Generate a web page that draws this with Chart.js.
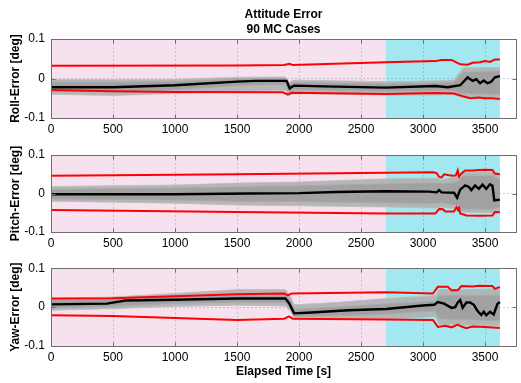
<!DOCTYPE html>
<html>
<head>
<meta charset="utf-8">
<script src="https://cdn.jsdelivr.net/npm/chart.js@4.4.1/dist/chart.umd.min.js"></script>
<style>
  html, body { margin: 0; padding: 0; background: #fff; }
  #wrap { position: relative; width: 521px; height: 383px; }
  #wrap canvas { position: absolute; left: 0; }
</style>
</head>
<body>
<div id="wrap">
  <canvas id="cRoll" width="521" height="140" style="top:0"></canvas>
  <canvas id="cPitch" width="521" height="115" style="top:140px"></canvas>
  <canvas id="cYaw" width="521" height="128" style="top:255px"></canvas>
</div>
<script>
// ---- data -------------------------------------------------------------
const titleLines = ['Attitude Error', '90 MC Cases'];
const xTitle = 'Elapsed Time [s]';
const xTickValues = [0, 500, 1000, 1500, 2000, 2500, 3000, 3500];
const yTickLabels = ['-0.1', '0', '0.1'];
const phaseBounds = [0, 2700, 3620];          // s
const phaseColors = ['#f6e2ef', '#a3e8f1'];

// roll: 3-sigma bounds, mean, spread of the 90 runs
const rollUpper = [[0,0.032],[1500,0.033],[1880,0.034],[1925,0.037],[1950,0.034],[2700,0.041],[3100,0.044],[3150,0.047],[3230,0.047],[3300,0.036],[3360,0.035],[3400,0.040],[3460,0.041],[3500,0.044],[3540,0.042],[3580,0.048],[3620,0.048]];
const rollLower = [[0,-0.029],[500,-0.032],[1000,-0.034],[1870,-0.035],[1910,-0.041],[1940,-0.036],[2700,-0.039],[3100,-0.037],[3250,-0.038],[3320,-0.045],[3380,-0.050],[3450,-0.048],[3500,-0.050],[3560,-0.050],[3620,-0.052]];
const rollMean = [[0,-0.022],[500,-0.022],[1000,-0.017],[1500,-0.008],[1650,-0.006],[1900,-0.006],[1925,-0.025],[1960,-0.018],[2200,-0.020],[2700,-0.023],[3100,-0.019],[3200,-0.022],[3300,-0.017],[3360,0.003],[3400,-0.006],[3430,-0.002],[3460,-0.012],[3490,-0.005],[3520,-0.012],[3550,-0.008],[3580,0.003],[3620,0.006]];
const rollBandT  = [0, 500, 1000, 1500, 1890, 1920, 1960, 2700, 3100, 3250, 3300, 3330, 3620];
const rollOutHi  = [-0.002, -0.003, -0.002, 0.003, 0.004, -0.010, -0.004, -0.008, -0.006, -0.004, 0.018, 0.027, 0.028];
const rollOutLo  = [-0.040, -0.043, -0.038, -0.033, -0.030, -0.043, -0.038, -0.042, -0.042, -0.040, -0.046, -0.047, -0.048];
const rollCoreHi = [-0.010, -0.010, -0.008, -0.001, 0.000, -0.015, -0.010, -0.014, -0.012, -0.010, 0.008, 0.016, 0.018];
const rollCoreLo = [-0.033, -0.034, -0.028, -0.018, -0.014, -0.034, -0.028, -0.032, -0.030, -0.030, -0.036, -0.038, -0.040];

// pitch
const pitchUpper = [[0,0.046],[1500,0.050],[2700,0.054],[3080,0.055],[3110,0.053],[3130,0.043],[3150,0.042],[3170,0.050],[3200,0.048],[3240,0.046],[3265,0.047],[3280,0.060],[3290,0.044],[3310,0.052],[3340,0.060],[3400,0.060],[3450,0.061],[3500,0.062],[3560,0.061],[3580,0.052],[3620,0.050]];
const pitchLower = [[0,-0.043],[1500,-0.048],[2700,-0.052],[3100,-0.052],[3130,-0.040],[3160,-0.041],[3180,-0.047],[3250,-0.047],[3270,-0.036],[3285,-0.045],[3290,-0.034],[3300,-0.052],[3350,-0.057],[3450,-0.058],[3560,-0.057],[3580,-0.048],[3620,-0.049]];
const pitchMean = [[0,-0.002],[1000,-0.002],[1600,0.000],[2000,0.001],[2300,0.004],[2700,0.006],[3050,0.005],[3110,0.003],[3130,0.009],[3150,0.003],[3250,0.002],[3275,-0.011],[3300,0.010],[3340,0.021],[3370,0.017],[3390,0.009],[3420,0.021],[3450,0.012],[3480,0.023],[3510,0.012],[3540,0.024],[3560,0.020],[3575,-0.018],[3620,-0.016]];
const pitchBandT  = [0, 1000, 1500, 2000, 2700, 3100, 3150, 3280, 3320, 3560, 3620];
const pitchOutHi  = [0.018, 0.022, 0.027, 0.030, 0.038, 0.040, 0.036, 0.045, 0.055, 0.056, 0.046];
const pitchOutLo  = [-0.020, -0.025, -0.030, -0.032, -0.035, -0.038, -0.035, -0.040, -0.048, -0.050, -0.045];
const pitchCoreHi = [0.011, 0.014, 0.017, 0.020, 0.025, 0.027, 0.025, 0.030, 0.045, 0.046, 0.035];
const pitchCoreLo = [-0.014, -0.017, -0.020, -0.021, -0.024, -0.026, -0.024, -0.030, -0.040, -0.040, -0.035];

// yaw
const yawUpper = [[0,0.022],[500,0.023],[1000,0.028],[1500,0.033],[1880,0.035],[1910,0.030],[1940,0.035],[2700,0.038],[3080,0.035],[3120,0.052],[3200,0.052],[3230,0.043],[3280,0.043],[3310,0.054],[3400,0.053],[3450,0.055],[3500,0.054],[3560,0.054],[3580,0.047],[3620,0.052]];
const yawLower = [[0,-0.021],[500,-0.023],[1000,-0.028],[1500,-0.033],[1880,-0.030],[1920,-0.024],[1950,-0.030],[2700,-0.032],[3080,-0.033],[3120,-0.051],[3180,-0.048],[3230,-0.052],[3280,-0.045],[3310,-0.050],[3350,-0.054],[3400,-0.050],[3500,-0.051],[3620,-0.054]];
const yawMean = [[0,0.007],[450,0.009],[600,0.017],[1000,0.019],[1500,0.022],[1890,0.022],[1920,0.010],[1960,-0.016],[2100,-0.014],[2400,-0.008],[2700,-0.005],[3000,0.004],[3090,0.006],[3120,0.013],[3170,0.009],[3230,-0.002],[3260,0.000],[3280,0.012],[3300,0.018],[3320,-0.002],[3350,0.012],[3380,0.012],[3410,0.006],[3440,-0.010],[3470,-0.020],[3490,-0.012],[3510,-0.021],[3540,-0.012],[3570,-0.019],[3600,0.008],[3620,0.013]];
const yawBandT  = [0, 500, 1000, 1500, 1890, 1930, 1960, 2300, 2700, 3100, 3130, 3620];
const yawOutHi  = [0.022, 0.026, 0.035, 0.045, 0.045, 0.030, 0.006, 0.012, 0.022, 0.030, 0.045, 0.047];
const yawOutLo  = [-0.008, -0.004, 0.002, 0.005, 0.003, -0.010, -0.028, -0.030, -0.030, -0.025, -0.045, -0.048];
const yawCoreHi = [0.017, 0.019, 0.026, 0.029, 0.029, 0.018, -0.006, 0.000, 0.008, 0.015, 0.030, 0.030];
const yawCoreLo = [-0.002, 0.002, 0.010, 0.013, 0.012, 0.000, -0.024, -0.022, -0.018, -0.010, -0.030, -0.035];

// ---- style ------------------------------------------------------------
const FONT = "'Liberation Sans', Arial, sans-serif";
const FRAME = '#6e6e6e';
const GRID = 'rgba(120,120,140,0.35)';

const zip = (t, v) => t.map((ti, i) => [ti, v[i]]);

// pink / cyan mission phases behind everything
const phaseShading = {
  id: 'phaseShading',
  beforeDraw(chart) {
    const { ctx, chartArea: { top, bottom }, scales: { x } } = chart;
    ctx.save();
    for (let i = 0; i < phaseColors.length; i++) {
      const x0 = x.getPixelForValue(phaseBounds[i]);
      const x1 = x.getPixelForValue(phaseBounds[i + 1]);
      ctx.fillStyle = phaseColors[i];
      ctx.fillRect(x0, top, x1 - x0, bottom - top);
    }
    ctx.restore();
  }
};

// box around the axes with inward tick marks
const axesBox = {
  id: 'axesBox',
  afterDraw(chart) {
    const { ctx, chartArea: { left, right, top, bottom }, scales: { x, y } } = chart;
    const L = Math.round(left) + 0.5, R = Math.round(right) + 0.5;
    const T = Math.round(top) + 0.5, B = Math.round(bottom) + 0.5;
    ctx.save();
    ctx.strokeStyle = FRAME;
    ctx.lineWidth = 1;
    ctx.beginPath();
    x.ticks.forEach(t => {
      const px = Math.round(x.getPixelForValue(t.value)) + 0.5;
      ctx.moveTo(px, B); ctx.lineTo(px, B - 4);
      ctx.moveTo(px, T); ctx.lineTo(px, T + 4);
    });
    y.ticks.forEach(t => {
      const py = Math.round(y.getPixelForValue(t.value)) + 0.5;
      ctx.moveTo(L, py); ctx.lineTo(L + 4, py);
      ctx.moveTo(R, py); ctx.lineTo(R - 4, py);
    });
    ctx.rect(L, T, R - L, B - T);
    ctx.stroke();
    ctx.restore();
  }
};

// two-line heading centred over the plot area
const headerText = {
  id: 'headerText',
  afterDraw(chart, args, opts) {
    if (!opts.lines) return;
    const { ctx, chartArea: { left, right } } = chart;
    ctx.save();
    ctx.fillStyle = '#000';
    ctx.font = 'bold 12px ' + FONT;
    ctx.textAlign = 'center';
    ctx.textBaseline = 'middle';
    opts.lines.forEach((s, i) => ctx.fillText(s, (left + right) / 2, opts.y0 + i * opts.step));
    ctx.restore();
  }
};

function buildPanel(id, p) {
  const ctx = document.getElementById(id).getContext('2d');
  const datasets = [
    { data: zip(p.bandT, p.outHi), borderColor: '#bdbdbd', borderWidth: 0.8, fill: false, order: 4 },
    { data: zip(p.bandT, p.outLo), borderColor: '#bdbdbd', borderWidth: 0.8, fill: '-1', backgroundColor: 'rgba(176,176,176,0.9)', order: 4 },
    { data: zip(p.bandT, p.coreHi), borderColor: '#a8a8a8', borderWidth: 0.8, fill: false, order: 3 },
    { data: zip(p.bandT, p.coreLo), borderColor: '#a8a8a8', borderWidth: 0.8, fill: '-1', backgroundColor: 'rgba(160,160,160,0.95)', order: 3 },
    { data: p.upper, borderColor: '#ff0000', borderWidth: 2, fill: false, order: 1 },
    { data: p.lower, borderColor: '#ff0000', borderWidth: 2, fill: false, order: 1 },
    { data: p.mean, borderColor: '#000000', borderWidth: 2.4, fill: false, order: 0 }
  ];

  return new Chart(ctx, {
    type: 'line',
    data: { datasets },
    options: {
      responsive: false,
      animation: false,
      layout: { padding: { top: p.padTop, right: 5, left: 0, bottom: 0 } },
      elements: { point: { radius: 0 }, line: { tension: 0 } },
      plugins: {
        legend: { display: false },
        tooltip: { enabled: false },
        headerText: p.header || {}
      },
      scales: {
        x: {
          type: 'linear',
          min: 0,
          max: 3750,
          afterFit: (s) => { s.height = p.xHeight; },
          afterBuildTicks: (s) => { s.ticks = xTickValues.map(v => ({ value: v })); },
          ticks: {
            autoSkip: false,
            maxRotation: 0,
            padding: 4,
            color: '#000',
            font: { family: FONT, size: 12 },
            callback: (v) => String(v)
          },
          grid: { color: GRID, drawTicks: false },
          border: { display: false, dash: [2, 2] },
          title: p.xTitle
            ? { display: true, text: p.xTitle, color: '#000', font: { family: FONT, size: 12, weight: 'bold' }, padding: { top: 0, bottom: 4 } }
            : { display: false }
        },
        y: {
          min: -0.1,
          max: 0.1,
          afterFit: (s) => { s.width = 51; },
          ticks: {
            stepSize: 0.1,
            padding: 6,
            color: '#000',
            font: { family: FONT, size: 12 },
            callback: (v, i) => yTickLabels[i]
          },
          grid: { color: GRID, drawTicks: false },
          border: { display: false, dash: [2, 2] },
          title: { display: true, text: p.yTitle, color: '#000', font: { family: FONT, size: 12, weight: 'bold' }, padding: { top: 8, bottom: 0 } }
        }
      }
    },
    plugins: [phaseShading, axesBox, headerText]
  });
}

buildPanel('cRoll', {
  padTop: 39, xHeight: 22, yTitle: 'Roll-Error [deg]',
  header: { lines: titleLines, y0: 15, step: 14.5 },
  upper: rollUpper, lower: rollLower, mean: rollMean,
  bandT: rollBandT, outHi: rollOutHi, outLo: rollOutLo, coreHi: rollCoreHi, coreLo: rollCoreLo
});

buildPanel('cPitch', {
  padTop: 15, xHeight: 23, yTitle: 'Pitch-Error [deg]',
  upper: pitchUpper, lower: pitchLower, mean: pitchMean,
  bandT: pitchBandT, outHi: pitchOutHi, outLo: pitchOutLo, coreHi: pitchCoreHi, coreLo: pitchCoreLo
});

buildPanel('cYaw', {
  padTop: 13, xHeight: 37, yTitle: 'Yaw-Error [deg]', xTitle: xTitle,
  upper: yawUpper, lower: yawLower, mean: yawMean,
  bandT: yawBandT, outHi: yawOutHi, outLo: yawOutLo, coreHi: yawCoreHi, coreLo: yawCoreLo
});
</script>
</body>
</html>
